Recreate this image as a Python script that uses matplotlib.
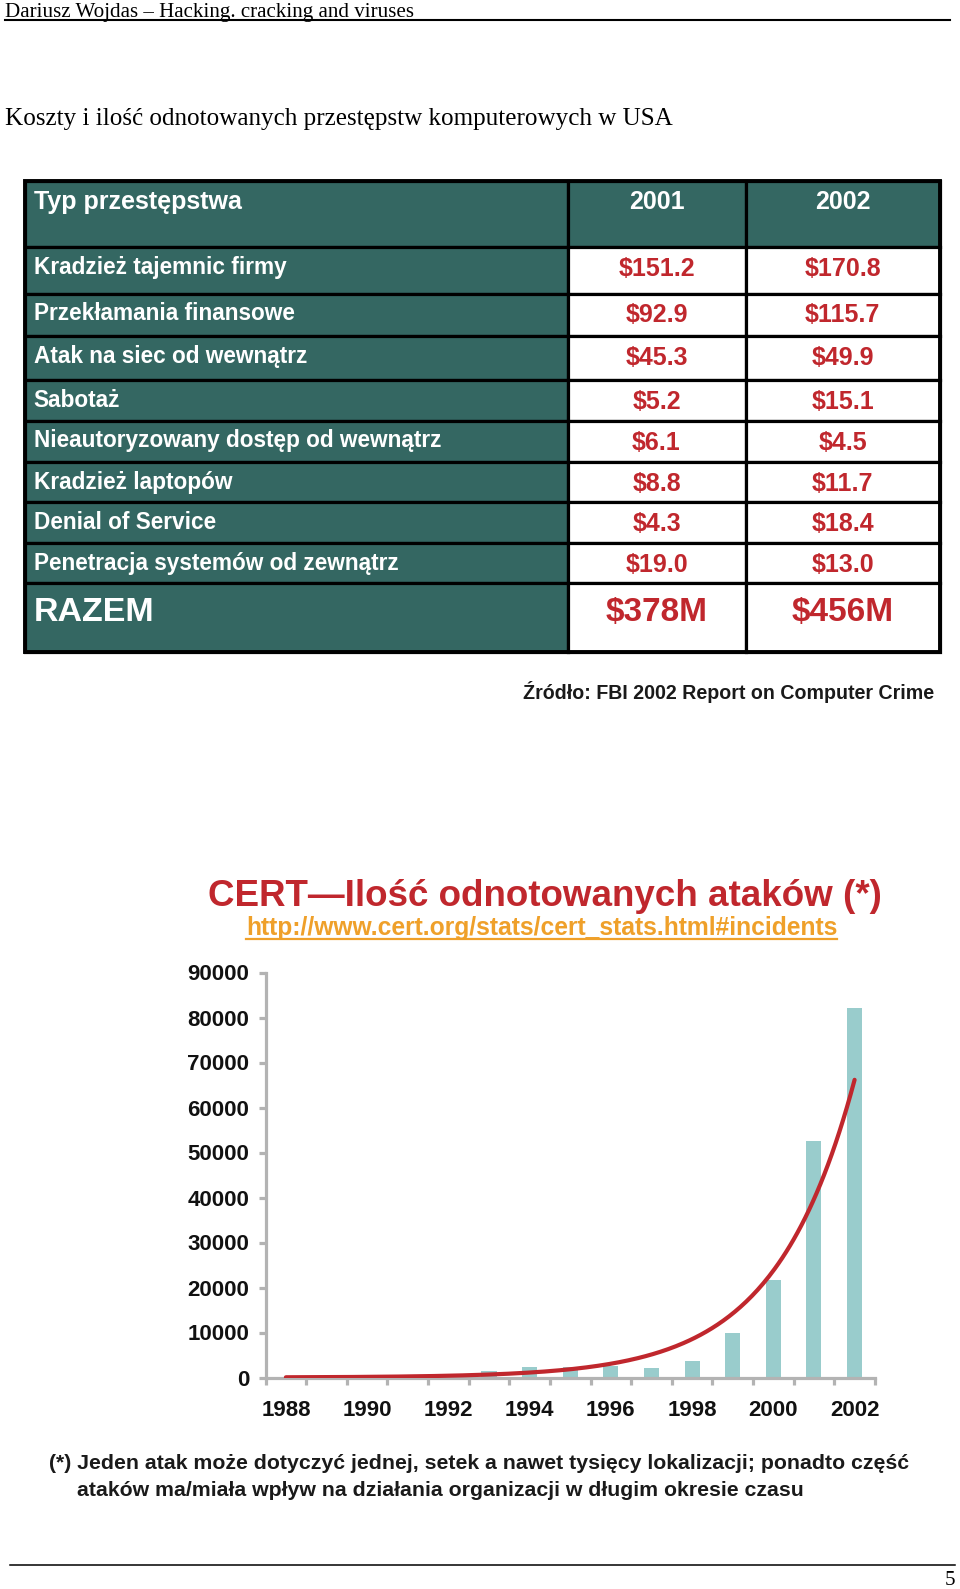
import numpy as np
import matplotlib.pyplot as plt
from matplotlib.patches import Rectangle

# table data (FBI 2002 report, mln USD)
crime_types = ["Kradzież tajemnic firmy", "Przekłamania finansowe",
               "Atak na siec od wewnątrz", "Sabotaż",
               "Nieautoryzowany dostęp od wewnątrz", "Kradzież laptopów",
               "Denial of Service", "Penetracja systemów od zewnątrz"]
cost_2001 = [151.2, 92.9, 45.3, 5.2, 6.1, 8.8, 4.3, 19.0]
cost_2002 = [170.8, 115.7, 49.9, 15.1, 4.5, 11.7, 18.4, 13.0]
table_years = ["2001", "2002"]
totals = [378, 456]

# CERT incidents
years = [1988, 1989, 1990, 1991, 1992, 1993, 1994, 1995,
         1996, 1997, 1998, 1999, 2000, 2001, 2002]
incidents = [6, 132, 252, 406, 773, 1334, 2340, 2412,
             2573, 2134, 3734, 9859, 21756, 52658, 82094]

TEAL = "#346762"
RED = "#c0272d"
ORANGE = "#efa02a"
GREY = "#b3b3b3"
SERIF = "Liberation Serif"

plt.rcParams["font.family"] = ["Liberation Sans", "DejaVu Sans"]

fig = plt.figure(figsize=(9.6, 15.89), dpi=100)
page = fig.add_axes([0, 0, 1, 1])
page.set_xlim(0, 960)
page.set_ylim(1589, 0)
page.axis("off")

renderer = fig.canvas.get_renderer()


def fit(t, width):
    w = t.get_window_extent(renderer).width
    t.set_fontsize(t.get_fontsize() * width / w)
    return t


# page header
fit(page.text(5, 17, "Dariusz Wojdas – Hacking. cracking and viruses",
              family=SERIF, fontsize=15, va="baseline"), 409)
page.plot([5, 950], [20, 20], color="black", lw=1.5)
fit(page.text(5, 124.5, "Koszty i ilość odnotowanych przestępstw komputerowych w USA",
              family=SERIF, fontsize=18, va="baseline"), 667)

# ---- table ----
x_edges = [24.5, 567.5, 745.5, 940]
y_edges = [181, 247, 293.5, 336, 380, 420.5, 461.7, 502.3, 543.3, 583.3, 652]
for i in range(len(y_edges) - 1):
    for j in range(3):
        fc = TEAL if (i == 0 or j == 0) else "white"
        page.add_patch(Rectangle((x_edges[j], y_edges[i]),
                                 x_edges[j + 1] - x_edges[j],
                                 y_edges[i + 1] - y_edges[i],
                                 fc=fc, ec="black", lw=2.3))
page.add_patch(Rectangle((x_edges[0], y_edges[0]), x_edges[-1] - x_edges[0],
                         y_edges[-1] - y_edges[0], fc="none", ec="black", lw=2.8))

col_c = [(x_edges[1] + x_edges[2]) / 2, (x_edges[2] + x_edges[3]) / 2]
page.text(33.5, 209, "Typ przestępstwa", color="white", fontweight="bold",
          fontsize=18, va="baseline")
for c, yr in zip(col_c, table_years):
    page.text(c, 209, yr, color="white", fontweight="bold", fontsize=18,
              va="baseline", ha="center")

for k, name in enumerate(crime_types):
    top = y_edges[k + 1]
    page.text(33.5, top + 27, name, color="white", fontweight="bold",
              fontsize=16.3, va="baseline")
    for c, v in zip(col_c, [cost_2001[k], cost_2002[k]]):
        page.text(c, top + 29, f"${v:.1f}", color=RED, fontweight="bold",
                  fontsize=18, va="baseline", ha="center")

top = y_edges[-2]
page.text(33.5, top + 38, "RAZEM", color="white", fontweight="bold",
          fontsize=24.5, va="baseline")
for c, v in zip(col_c, totals):
    page.text(c, top + 38, f"${v}M", color=RED, fontweight="bold",
              fontsize=24, va="baseline", ha="center")

fit(page.text(934.6, 698.8, "Źródło: FBI 2002 Report on Computer Crime",
              ha="right", va="baseline", fontsize=15, fontweight="bold",
              color="#1a1a1a"), 412.6)

# ---- chart titles ----
fit(page.text(545, 905.5, "CERT—Ilość odnotowanych ataków (*)", ha="center",
              va="baseline", color=RED, fontweight="bold", fontsize=26), 674)
url = fit(page.text(541.6, 935, "http://www.cert.org/stats/cert_stats.html#incidents",
                    ha="center", va="baseline", color=ORANGE, fontweight="bold",
                    fontsize=17.7), 593)
bb = url.get_window_extent(renderer)
(ux0, _), (ux1, _) = page.transData.inverted().transform([[bb.x0, 0], [bb.x1, 0]])
page.plot([ux0, ux1], [938.7, 938.7], color=ORANGE, lw=1.6)

# ---- CERT chart ----
ax = fig.add_axes([265.6 / 960, (1589 - 1377.5) / 1589, 609.3 / 960, 405 / 1589])
ax.bar(years, incidents, width=0.37, color="#99cccc", zorder=2)

# exponential trend line (least squares on log values)
coef = np.polyfit(years, np.log(incidents), 1)
xs = np.linspace(years[0], years[-1], 300)
ax.plot(xs, np.exp(np.polyval(coef, xs)), color=RED, lw=3, zorder=3,
        solid_capstyle="round")

ax.set_xlim(1987.5, 2002.5)
ax.set_ylim(0, 90000)
for s in ["top", "right"]:
    ax.spines[s].set_visible(False)
for s in ["left", "bottom"]:
    ax.spines[s].set_color(GREY)
    ax.spines[s].set_linewidth(2.3)
ax.patch.set_alpha(0)

ax.set_yticks(range(0, 90001, 10000))
ax.set_yticklabels([str(v) for v in range(0, 90001, 10000)])
ax.set_xticks(years[::2])
ax.set_xticks(np.arange(1987.5, 2003, 1), minor=True)
ax.tick_params(axis="y", length=5, width=2.3, color=GREY, pad=6.8,
               labelsize=16)
ax.tick_params(axis="x", which="major", length=0, pad=16, labelsize=16)
ax.tick_params(axis="x", which="minor", length=5, width=2.3, color=GREY)
for lab in ax.get_xticklabels() + ax.get_yticklabels():
    lab.set_fontweight("bold")
    lab.set_color("#111111")

# footnote
t1 = fit(page.text(48.7, 1469,
                   "(*) Jeden atak może dotyczyć jednej, setek a nawet tysięcy lokalizacji; ponadto część",
                   fontweight="bold", fontsize=15, va="baseline", color="#1a1a1a"), 863.6)
page.text(77, 1495.5, "ataków ma/miała wpływ na działania organizacji w długim okresie czasu",
          fontweight="bold", fontsize=t1.get_fontsize(), va="baseline", color="#1a1a1a")

# page footer
page.plot([10, 955], [1564.5, 1564.5], color="black", lw=1.1)
page.text(955, 1585, "5", ha="right", va="baseline", family=SERIF, fontsize=15)

fig.savefig("out.png", dpi=100)
